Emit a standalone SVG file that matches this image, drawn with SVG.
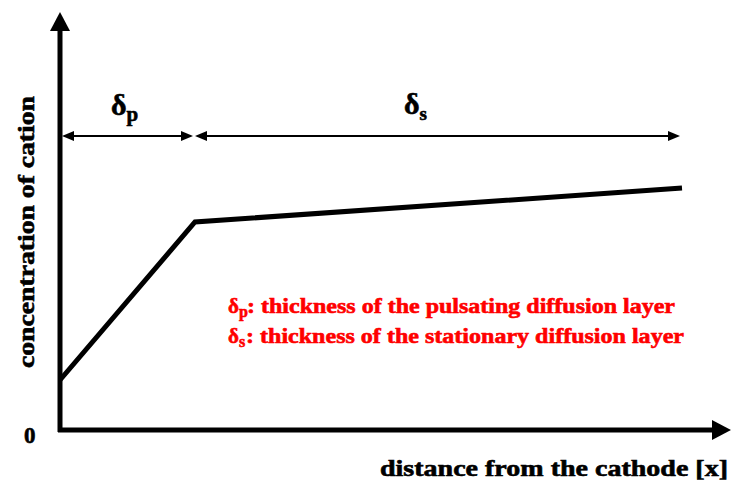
<svg xmlns="http://www.w3.org/2000/svg" width="731" height="481" viewBox="0 0 731 481">
<style>
.lbl{font-family:"Liberation Serif","Times New Roman",serif;font-weight:bold;fill:#000;stroke:#000;stroke-width:0.6}
.red{font-family:"Liberation Serif","Times New Roman",serif;font-weight:bold;fill:#ff0000;stroke:#ff0000;stroke-width:0.6;font-size:21px}
.axis{stroke:#000;stroke-width:5;fill:none}
.dim{stroke:#000;stroke-width:2;fill:none}
</style>
<g id="axes">
<line class="axis" x1="60" y1="432" x2="60" y2="28"/>
<polygon points="60,12 50,31 70,31" fill="#000"/>
<line class="axis" x1="58" y1="430" x2="714" y2="430"/>
<polygon points="731,430 712,420 712,440" fill="#000"/>
</g>
<g id="connectors">
<line class="dim" x1="66" y1="136" x2="190" y2="136"/>
<path d="M74,131 L62,136 L74,141 Z" fill="#000"/>
<path d="M181,131 L193,136 L181,141 Z" fill="#000"/>
<line class="dim" x1="199" y1="136" x2="672" y2="136"/>
<path d="M207,131 L195,136 L207,141 Z" fill="#000"/>
<path d="M668,131 L680,136 L668,141 Z" fill="#000"/>
</g>
<g id="curve">
<polyline points="60,380 195,222 682,188" fill="none" stroke="#000" stroke-width="5" stroke-linejoin="miter"/>
</g>
<g id="labels">
<text class="lbl" x="111" y="115" font-size="30">δ<tspan font-size="21" dy="6">p</tspan></text>
<text class="lbl" x="404" y="114" font-size="30">δ<tspan font-size="19" dy="6">s</tspan></text>
<text class="lbl" font-size="23" transform="translate(34,368) rotate(-90)" textLength="272" lengthAdjust="spacingAndGlyphs">concentration of cation</text>
<text class="lbl" x="24" y="443" font-size="23">0</text>
<text class="lbl" x="380" y="476" font-size="23" textLength="348" lengthAdjust="spacingAndGlyphs">distance from the cathode [x]</text>
</g>
<g id="legend">
<text class="red" x="228" y="313">δ<tspan font-size="16" dy="4">p</tspan><tspan x="247" y="313" textLength="428" lengthAdjust="spacingAndGlyphs">: thickness of the pulsating diffusion layer</tspan></text>
<text class="red" x="228" y="343">δ<tspan font-size="16" dy="4">s</tspan><tspan x="246" y="343" textLength="438" lengthAdjust="spacingAndGlyphs">: thickness of the stationary diffusion layer</tspan></text>
</g>
</svg>
